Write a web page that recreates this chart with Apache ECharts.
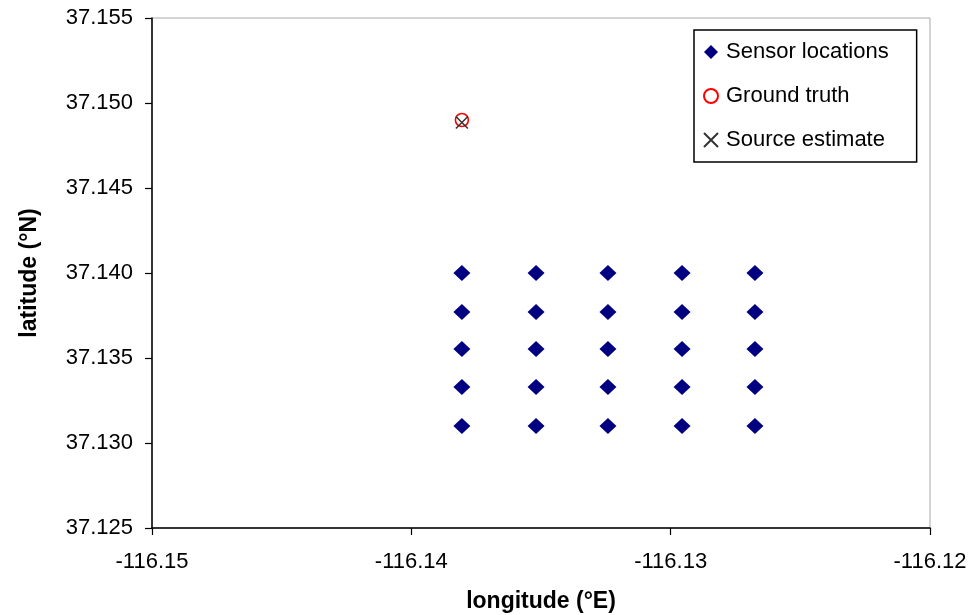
<!DOCTYPE html>
<html>
<head>
<meta charset="utf-8">
<script src="https://cdn.jsdelivr.net/npm/echarts@6/dist/echarts.min.js"></script>
<style>html,body{margin:0;padding:0;background:#fff;}#c{width:975px;height:615px;}</style>
</head>
<body>
<div id="c"></div>
<script>
const sensorLon = [-116.13805, -116.13519, -116.13242, -116.12956, -116.12675];
const sensorLat = [37.14000, 37.13771, 37.13553, 37.13329, 37.13100];
const groundTruth = [-116.13805, 37.14900];
const sourceEstimate = [-116.13805, 37.14885];
const seriesNames = ['Sensor locations', 'Ground truth', 'Source estimate'];

const sensors = [];
sensorLat.forEach(function (la) { sensorLon.forEach(function (lo) { sensors.push([lo, la]); }); });

const font = 'Arial, "Liberation Sans", sans-serif';
const chart = echarts.init(document.getElementById('c'));
chart.setOption({
  animation: false,
  backgroundColor: '#fff',
  grid: { left: 152, right: 45, top: 18, bottom: 87, show: true, borderColor: '#a8a8a8', borderWidth: 1, containLabel: false, outerBoundsMode: 'none' },
  xAxis: {
    type: 'value', min: -116.15, max: -116.12, interval: 0.01,
    name: 'longitude (°E)', nameLocation: 'middle', nameGap: 62,
    nameTextStyle: { fontFamily: font, fontWeight: 'bold', fontSize: 23, color: '#000' },
    axisLine: { onZero: false, lineStyle: { color: '#000', width: 1.5 } },
    axisTick: { inside: false, length: 7, lineStyle: { color: '#000', width: 1.2 } },
    axisLabel: { fontFamily: font, fontSize: 22, color: '#000', margin: 23, formatter: function (v) { return v.toFixed(2); } },
    splitLine: { show: false }
  },
  yAxis: {
    type: 'value', min: 37.125, max: 37.155, interval: 0.005,
    name: 'latitude (°N)', nameLocation: 'middle', nameGap: 111, nameRotate: 90,
    nameTextStyle: { fontFamily: font, fontWeight: 'bold', fontSize: 23, color: '#000' },
    axisLine: { onZero: false, lineStyle: { color: '#000', width: 1.5 } },
    axisTick: { inside: false, length: 7, lineStyle: { color: '#000', width: 1.2 } },
    axisLabel: { fontFamily: font, fontSize: 22, color: '#000', margin: 19, formatter: function (v) { return v.toFixed(3); } },
    splitLine: { show: false }
  },
  legend: {
    left: 694, top: 30,
    orient: 'vertical',
    padding: [11, 28, 11, 9],
    itemGap: 22,
    itemWidth: 14, itemHeight: 14,
    borderColor: '#000', borderWidth: 1.5,
    textStyle: { fontFamily: font, fontSize: 22, color: '#000', padding: [0, 0, 0, 3] },
    data: seriesNames
  },
  series: [
    {
      name: seriesNames[0], type: 'scatter', data: sensors,
      symbol: 'diamond', symbolSize: [17, 16],
      itemStyle: { color: '#000080', opacity: 1 }
    },
    {
      name: seriesNames[1], type: 'scatter', data: [groundTruth],
      symbol: 'circle', symbolSize: 13,
      itemStyle: { color: 'rgba(255,255,255,0)', borderColor: '#ff0000', borderWidth: 1.6, opacity: 1 }
    },
    {
      name: seriesNames[2], type: 'scatter', data: [sourceEstimate],
      symbol: 'path://M0,0L10,10M10,0L0,10', symbolSize: 12,
      itemStyle: { color: 'rgba(0,0,0,0)', borderColor: '#333', borderWidth: 1.5, opacity: 1 }
    }
  ]
});
</script>
</body>
</html>
